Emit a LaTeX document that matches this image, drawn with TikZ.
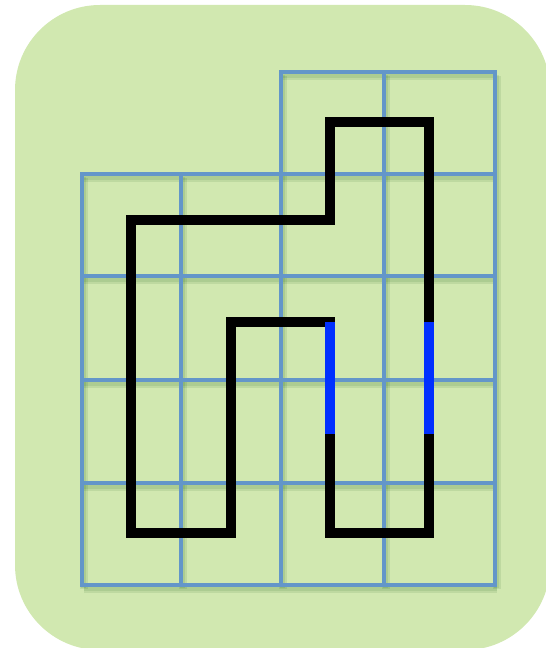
\documentclass[tikz,border=0pt]{standalone}
\usetikzlibrary{calc}
\definecolor{bgcol}  {RGB}{209,232,176}
\definecolor{gridcol}{RGB}{99,150,201}
\definecolor{markcol}{RGB}{0,48,255}
\begin{document}
\begin{tikzpicture}[
  x=0.02cm,y=-0.02cm,
  gridline/.style ={draw=gridcol,line cap=rect},
  gridshade/.style={draw=black!70!green,opacity=0.09},
  tour/.style     ={draw=black,line width=5.7pt,line cap=rect},
  cut/.style      ={draw=markcol,line width=5.7pt,line cap=butt}
]
\useasboundingbox (0,0) rectangle (546,648);
\clip (0,0) rectangle (546,648);
\fill[bgcol,rounded corners=1.7cm] (15,5) rectangle (550,650);
% grid with a soft shadow
\foreach \sty/\w/\dx/\dy in {gridshade/4.6pt/2/4,gridshade/3.2pt/1.5/3,gridline/2.8pt/0/0}{
  \begin{scope}[shift={(\dx,\dy)},line width=\w]
    \foreach \gy in {174,276,380,483,585}
      \draw[\sty] (82,\gy) -- (495,\gy);
    \draw[\sty] (281,72) -- (495,72);
    \foreach \gx in {82,181}
      \draw[\sty] (\gx,174) -- (\gx,585);
    \foreach \gx in {281,384,495}
      \draw[\sty] (\gx,72) -- (\gx,585);
  \end{scope}
}
% cell centres
\foreach \c/\px in {0/131,1/231,2/330,3/429}
  \foreach \r/\py in {0/122,1/220,2/322,3/434,4/533}
    \coordinate (p\c\r) at (\px,\py);
% closed tour
\foreach \a/\b in {01/02,02/03,03/04,04/14,14/13,13/12,12/22,23/24,24/34,
                   34/33,32/31,31/30,30/20,20/21,21/11,11/01}
  \draw[tour] (p\a) -- (p\b);
\draw[cut] (p22) -- (p23);
\draw[cut] (p33) -- (p32);
\end{tikzpicture}
\end{document}
